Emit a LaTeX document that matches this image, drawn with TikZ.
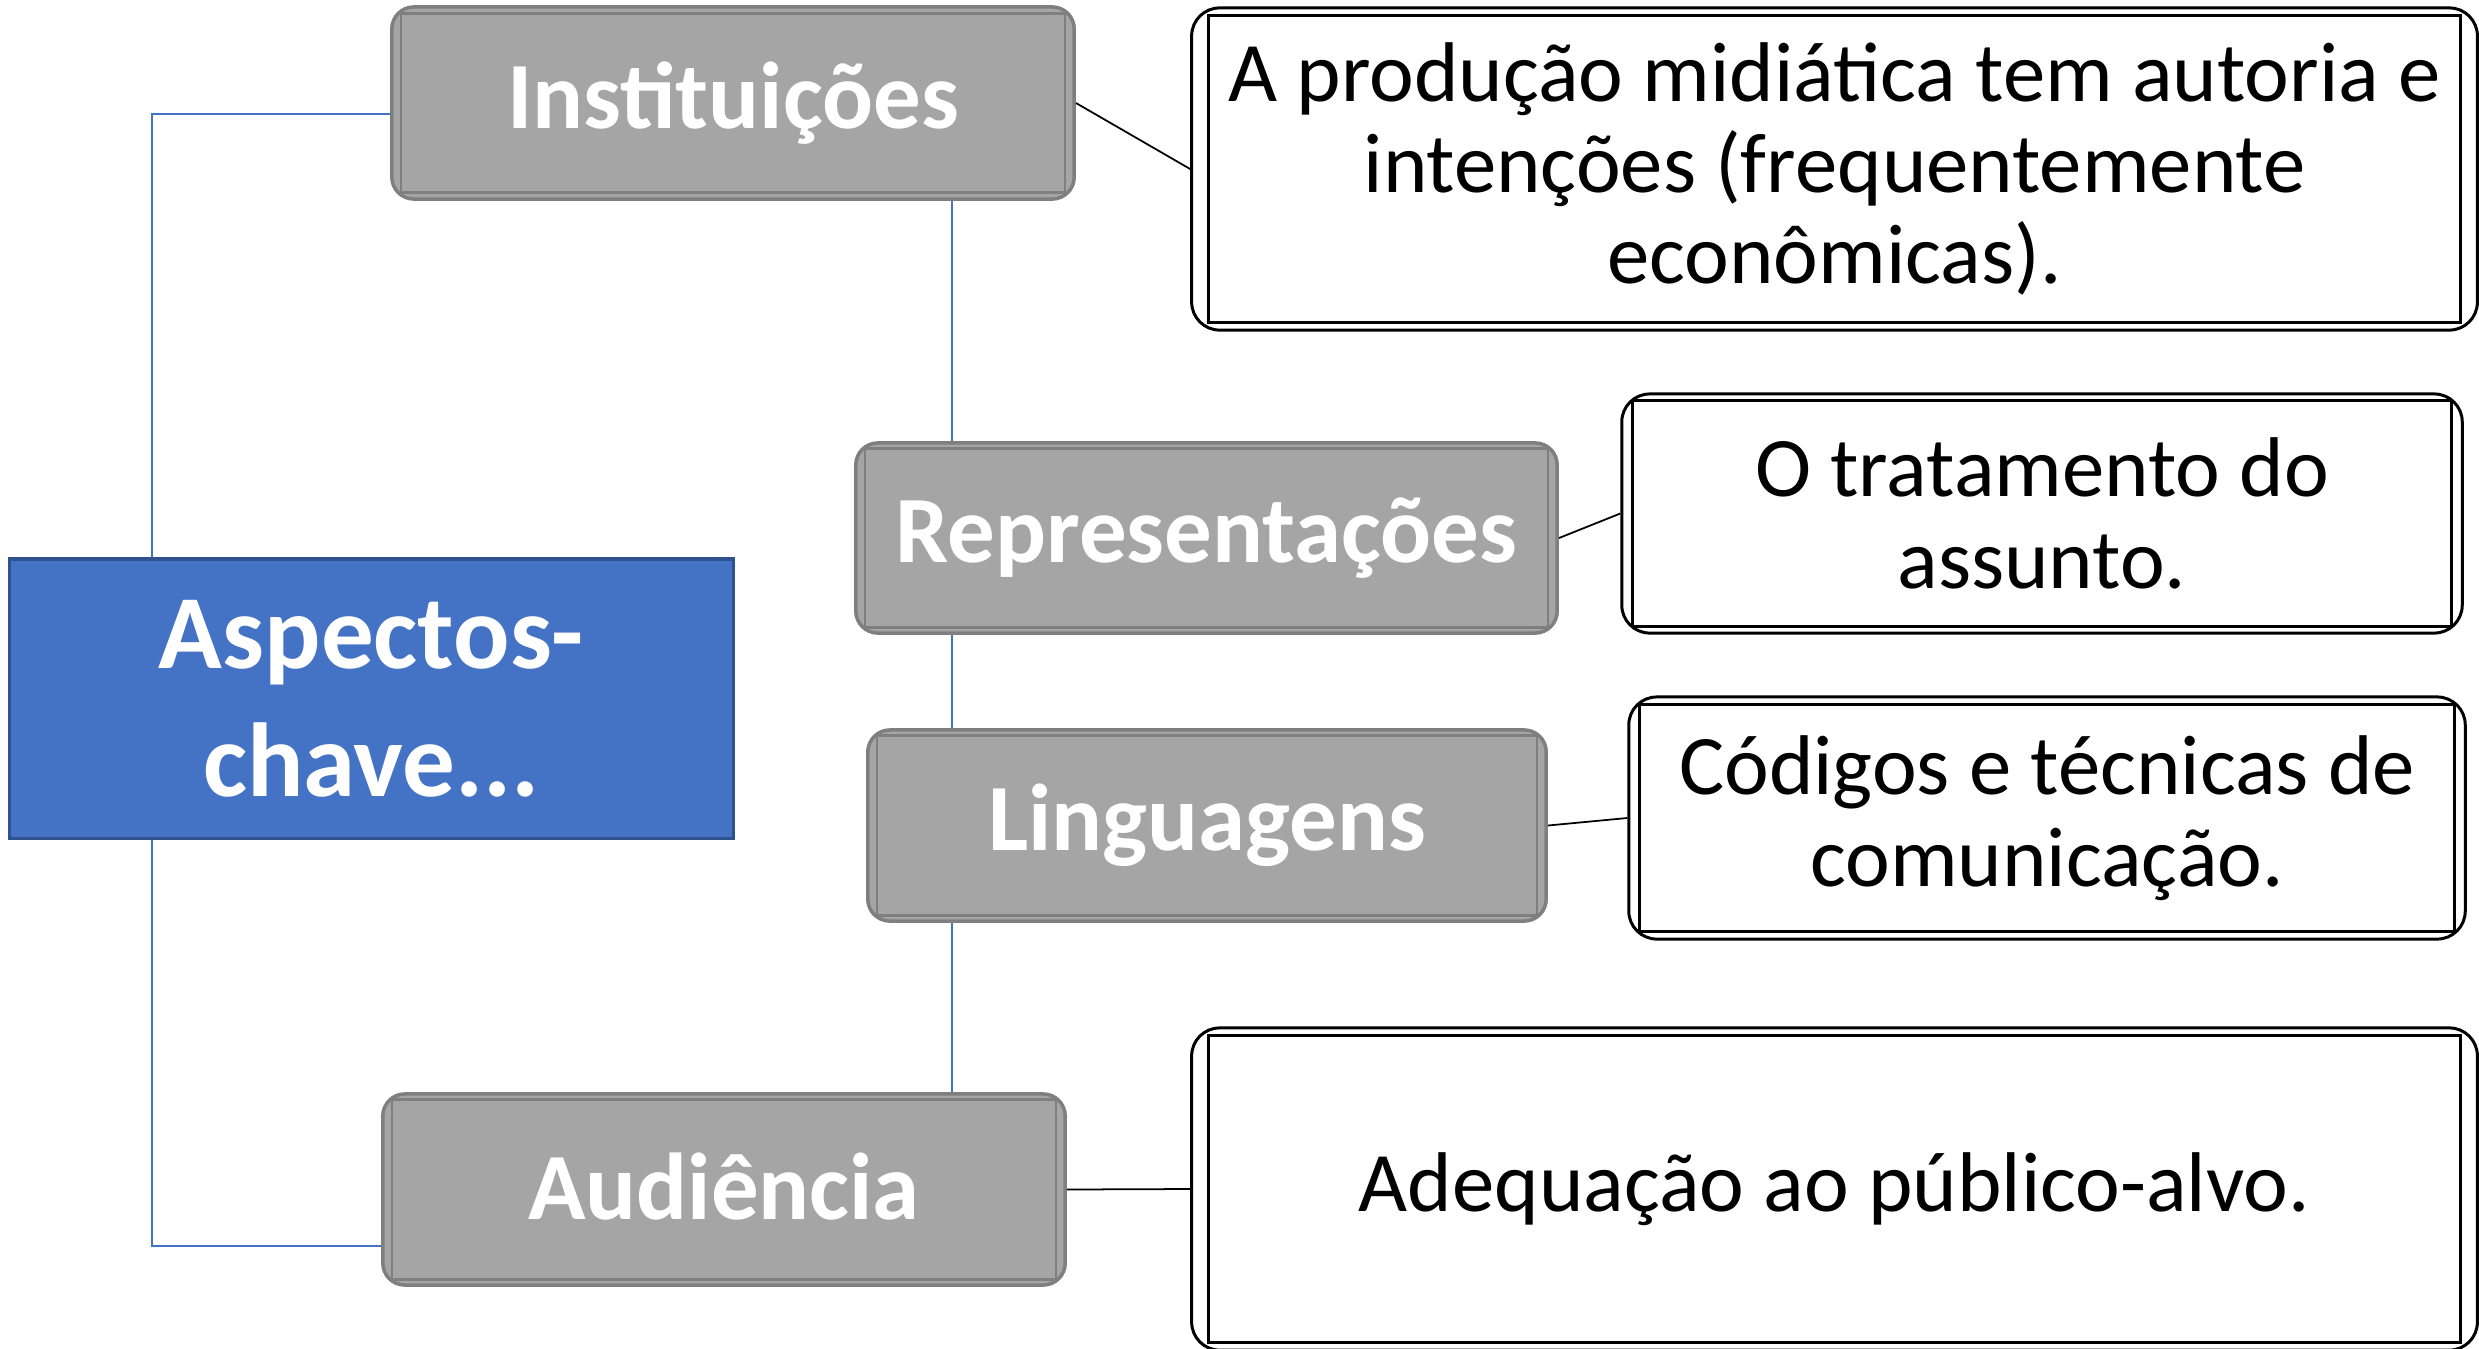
\documentclass[tikz,border=0pt]{standalone}
\usepackage{fontspec}
\setmainfont{Carlito}
\usetikzlibrary{calc,backgrounds}
\definecolor{grayfill}{HTML}{A5A5A5}
\definecolor{grayedge}{HTML}{7F7F7F}
\definecolor{bluefill}{HTML}{4472C4}
\definecolor{blueedge}{HTML}{2F528F}
\definecolor{bluelink}{HTML}{4472C4}
\newcommand\innerframe[4]{\draw[#4] ($(#1.north west)+(#2,#3)$) rectangle ($(#1.south east)+(-#2,-#3)$);}
\begin{document}
\begin{tikzpicture}[x=0.01cm,y=-0.01cm,
  graybox/.style={draw=grayedge, fill=grayfill, line width=1pt, rounded corners=0.22cm,
    inner sep=0pt, text=white, font=\fontsize{27pt}{33pt}\selectfont\bfseries},
  grayinner/.style={draw=grayedge, line width=0.8pt},
  textbox/.style={draw=black, line width=0.85pt, rounded corners=0.28cm, inner sep=0pt,
    align=center, font=\fontsize{24.1pt}{26pt}\selectfont},
  textinner/.style={draw=black, line width=0.8pt},
  keybox/.style={draw=blueedge, fill=bluefill, line width=0.9pt, inner sep=0pt,
    align=center, text=white, font=\fontsize{29.9pt}{36.4pt}\selectfont\bfseries},
  bluelinkline/.style={draw=bluelink, line width=0.45pt},
  blackline/.style={draw=black, line width=0.5pt}
]
\useasboundingbox (0,0) rectangle (2479,1348);

% central box
\node[keybox, minimum width=7.24cm, minimum height=2.79cm] (key) at (371.5,698.5) {Aspectos-\\chave...};

% gray boxes
\node[graybox, minimum width=6.82cm, minimum height=1.92cm] (inst) at (733,103) {Instituições};
\node[graybox, minimum width=7.01cm, minimum height=1.90cm] (repr) at (1206.5,538) {Representações};
\node[graybox, minimum width=6.78cm, minimum height=1.91cm] (ling) at (1207,825.5) {Linguagens};
\node[graybox, minimum width=6.82cm, minimum height=1.91cm] (aud) at (724,1189.5) {\raisebox{0.06cm}{Audiência}};
\innerframe{inst}{11}{8}{grayinner}
\innerframe{repr}{11}{7}{grayinner}
\innerframe{ling}{11}{7}{grayinner}
\innerframe{aud}{11}{7}{grayinner}

% description boxes
\node[textbox, minimum width=12.85cm, minimum height=3.22cm] (r1) at (1834.5,169)
  {A produção midiática tem autoria e\\intenções (frequentemente\\econômicas).};
\node[textbox, minimum width=8.40cm, minimum height=2.39cm] (r2) at (2042,513.5)
  {O tratamento do\\assunto.};
\node[textbox, minimum width=8.36cm, minimum height=2.42cm] (r3) at (2047,818)
  {Códigos e técnicas de\\comunicação.};
\node[textbox, minimum width=12.85cm, minimum height=3.22cm] (r4) at (1834.5,1189)
  {Adequação ao público-alvo.};
\innerframe{r1}{18}{9}{textinner}
\innerframe{r2}{12}{8}{textinner}
\innerframe{r3}{12}{9}{textinner}
\innerframe{r4}{18}{9}{textinner}

% connectors
\coordinate (lt) at (152,114);
\coordinate (lb) at (152,1246);
\coordinate (vx) at (952,0);
\begin{scope}[on background layer]
  \draw[bluelinkline] (inst.west |- lt) -- (lt) -- (lb) -- (aud.west |- lb);
  \draw[bluelinkline] (inst.south -| vx) -- (aud.north -| vx);
\end{scope}
\draw[blackline] (inst.east) -- (r1.west);
\draw[blackline] (repr.east) -- (r2.west);
\draw[blackline] (ling.east) -- (r3.west);
\draw[blackline] (aud.east) -- (r4.west);
\end{tikzpicture}
\end{document}
